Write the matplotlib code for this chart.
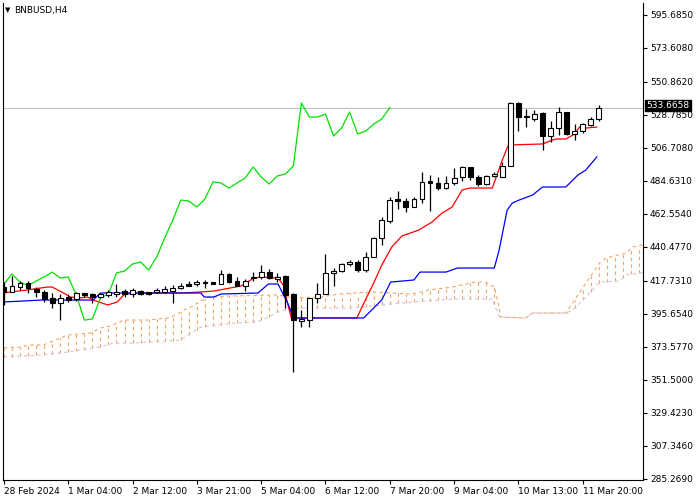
import numpy as np
import matplotlib
matplotlib.use("Agg")
import matplotlib.pyplot as plt
from matplotlib import font_manager

opens = [413.7,410.4,413.7,416.4,412.4,410.4,406.4,403.0,407.0,405.7,409.7,409.0,407.0,408.4,409.0,411.0,409.0,411.0,410.4,410.4,
         410.4,411.0,413.0,415.7,415.7,416.4,417.0,415.7,422.4,417.7,414.4,419.7,420.4,423.7,419.1,421.1,409.0,390.9,391.6,406.4,
         409.0,423.1,424.4,429.1,430.4,425.1,433.8,446.5,457.9,472.6,471.2,467.2,472.6,484.6,483.3,479.9,483.3,487.3,494.0,487.3,
         482.6,488.0,487.3,494.6,536.8,528.1,526.1,530.1,514.7,520.1,530.8,516.1,518.1,522.1,526.1]
highs = [417.0,421.1,417.7,417.7,413.7,411.7,409.7,409.0,409.0,410.4,409.7,409.7,409.7,411.7,415.7,412.4,413.0,411.7,410.4,413.0,
         414.4,415.0,416.4,417.7,418.4,418.4,417.0,425.1,423.1,420.4,419.1,423.7,428.4,425.7,423.1,421.7,409.7,398.3,406.4,416.4,
         435.8,426.4,429.7,431.8,431.8,437.1,447.1,460.5,473.9,477.9,473.2,473.9,490.6,488.6,487.3,488.0,493.3,494.6,494.0,488.6,
         488.6,490.6,497.3,537.5,537.5,532.8,532.1,530.8,524.7,534.1,530.8,522.7,523.4,527.4,535.5]
lows = [401.7,410.4,411.7,409.7,407.0,403.7,399.6,391.6,403.7,404.3,407.0,403.0,406.4,407.0,407.0,407.0,407.0,408.4,408.4,409.7,
        409.7,403.0,412.4,414.4,414.4,413.0,415.7,415.7,416.4,414.4,411.0,417.7,419.1,419.1,417.0,399.6,356.8,386.9,386.9,403.0,
        409.0,414.4,423.7,427.7,423.7,423.7,433.8,441.8,456.5,465.9,463.9,467.2,469.9,464.5,478.6,479.3,482.0,484.6,485.3,481.3,
        482.0,487.3,487.3,494.6,518.1,520.7,524.7,505.4,510.7,515.4,515.4,512.0,516.7,521.4,524.7]
closes = [410.4,414.4,416.4,413.0,410.4,405.7,403.0,406.4,405.0,409.7,408.4,407.0,409.0,410.4,410.4,409.0,411.7,409.0,409.0,411.7,
          412.4,413.0,414.4,414.6,417.0,417.0,415.7,422.4,417.0,414.6,417.7,420.4,423.7,419.7,420.4,408.4,391.6,392.3,406.4,409.0,
          423.1,424.4,429.1,430.4,425.1,433.8,446.5,458.5,471.9,471.2,467.2,472.6,484.0,483.3,479.9,483.3,486.6,494.0,487.3,482.6,
          488.0,489.3,494.6,536.8,527.4,527.4,529.4,514.7,520.1,530.8,516.1,518.1,522.7,526.1,533.67]

tenkan_i = [0,0.75,2.9,5.4,6,7.4,8.25,9.5,10.4,11.1,12.9,14.1,14.9,16.1,22.25,24.5,26.1,29.5,31.1,32,34.1,34.75,35.4,35.75,43.9,
            44.9,46,47,48.25,49.5,51.6,53.25,54.5,55.75,57,57.9,60.75,62,62.75,67,68.6,69.9,71,71.6,72.5,73.75]
tenkan_v = [409.7,410.4,411.7,413.7,413.7,409.7,407.0,406.4,407.0,405.0,401.7,403.7,408.4,409.7,409.7,410.4,411.0,414.4,419.7,420.4,
            419.7,415.0,400.3,393.0,393.0,404.3,416.4,428.4,440.5,447.8,451.8,457.2,463.2,467.2,478.6,479.9,479.9,498.7,508.7,509.4,
            512.7,512.7,516.1,520.7,520.1,520.7]
kijun_i = [0,4.75,11.1,12,24.5,24.9,26.1,27,31.6,32.9,34.1,35.4,36,44.75,47,48.1,51,51.75,55,56.4,61,61.6,62.6,63.25,64.1,65.75,
           67,69.9,71.4,72.4,73.75]
kijun_v = [403.7,405.0,405.0,409.7,409.7,407.0,407.0,409.0,409.7,415.7,415.7,401.7,393.0,393.0,405.0,417.0,418.4,423.7,423.7,426.4,
           426.4,438.4,465.2,469.9,471.9,475.2,480.6,480.6,488.6,492.0,500.7]
spanA_i = [0,2,3.25,4.9,7,7.9,10.75,12,13.25,14.9,17.9,20.4,21.1,22.4,23.25,24.5,25.4,28.6,34.1,36.1,39.5,41.6,43.5,45.75,50.75,
           52.9,55.75,58.6,59.9,61,61.6,61.75,64.9,65.75,69.9,70.75,72.4,74.1,74.9,77.4,78.25,79.9]
spanA_v = [372.9,373.5,374.9,374.9,379.6,381.6,382.9,386.3,387.6,391.6,391.6,393.0,394.3,398.3,400.3,404.3,407.0,407.7,408.4,406.4,
           407.0,409.0,409.7,410.4,409.0,411.7,413.7,417.0,417.0,413.7,400.3,393.6,393.0,396.3,396.3,403.0,416.4,429.7,433.1,436.4,
           440.5,442.5]
spanB_i = [0,2,4.5,7,9.5,12,13.6,16.1,22,22.9,24.5,28.6,31.6,32.9,34.1,35.75,43.25,49.5,55.75,60.75,61.6,64.9,65.75,69.9,70.75,
           72.4,74.1,76.6,77.4,79.9]
spanB_v = [366.9,367.5,368.2,369.5,371.5,373.5,376.2,376.2,378.2,381.6,386.9,389.6,390.3,393.6,397.0,399.6,399.6,403.0,405.7,405.7,
           393.6,393.0,396.3,396.3,398.3,407.0,417.0,417.7,421.7,423.7]

xtick_labels = ["28 Feb 2024","1 Mar 04:00","2 Mar 12:00","3 Mar 21:00","5 Mar 04:00","6 Mar 12:00",
                "7 Mar 20:00","9 Mar 04:00","10 Mar 13:00","11 Mar 20:00"]
ytick_vals = [595.6850,573.6080,550.8620,528.7850,506.7080,484.6310,462.5540,440.4770,417.7310,395.6540,
              373.5770,351.5000,329.4230,307.3460,285.2690]
last_price = 533.6658
symbol = "BNBUSD,H4"
shift = 26

names = {f.name for f in font_manager.fontManager.ttflist}
fam = ["Liberation Sans Narrow", "DejaVu Sans"] if "Liberation Sans Narrow" in names else ["DejaVu Sans"]
fs = 7.5 if fam[0] == "Liberation Sans Narrow" else 6.5
plt.rcParams["font.family"] = fam

fig = plt.figure(figsize=(7, 5), dpi=100)
ax = fig.add_axes([3/700, 20/500, 640/700, 477/500])
ax.set_xlim(-0.12, 79.5)
ax.set_ylim(284.6, 603.7)

grid = np.arange(0, 80)
a = np.interp(grid, spanA_i, spanA_v)
b = np.interp(grid, spanB_i, spanB_v)
ax.vlines(grid, np.minimum(a, b), np.maximum(a, b), colors="#f4a460", linestyles=(0, (3, 3)), lw=0.8)
ax.plot(spanA_i, spanA_v, color="#f4a460", ls=(0, (3, 3)), lw=0.8)
ax.plot(spanB_i, spanB_v, color="#d8bfd8", ls=(0, (3, 3)), lw=0.8)

ax.plot(tenkan_i, tenkan_v, color="red", lw=0.9)
ax.plot(kijun_i, kijun_v, color="blue", lw=0.9)
n = len(closes)
ax.plot(np.arange(n - shift), closes[shift:], color="#00e000", lw=0.9)

w = 0.6
for i in range(n):
    o, h, l, c = opens[i], highs[i], lows[i], closes[i]
    ax.vlines(i, l, h, colors="black", lw=0.9, zorder=3)
    fc = "white" if c >= o else "black"
    ax.add_patch(plt.Rectangle((i - w/2, min(o, c)), w, max(abs(c - o), 0.4),
                               facecolor=fc, edgecolor="black", lw=0.8, zorder=4))

ax.axhline(last_price, color="#c0c0c0", lw=0.8, zorder=1)

ax.yaxis.tick_right()
ax.set_yticks(ytick_vals)
ax.set_yticklabels([f"{v:.4f}" for v in ytick_vals])
ax.set_xticks(np.arange(0, 80, 8)[:len(xtick_labels)])
ax.set_xticklabels(xtick_labels, ha="left")
ax.tick_params(axis="both", labelsize=fs, length=3, width=0.8, colors="black", pad=2)
for s in ax.spines.values():
    s.set_linewidth(0.8)
ax.spines["top"].set_visible(False)

ax.text(1.005, last_price + 1.5, f"{last_price:.4f}", transform=ax.get_yaxis_transform(),
        fontsize=fs, color="white", va="center", ha="left",
        bbox=dict(boxstyle="square,pad=0.15", fc="black", ec="black"), zorder=10, clip_on=False)
fig.text(5/700, 1 - 10/500, "▼", fontsize=5, va="center", ha="left", family="DejaVu Sans")
fig.text(14/700, 1 - 10/500, symbol, fontsize=fs, va="center", ha="left")

fig.savefig("out.png", dpi=100)
